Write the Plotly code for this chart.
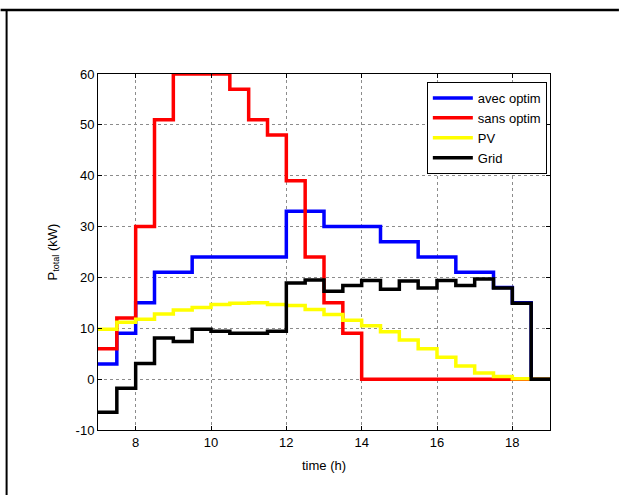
import plotly.graph_objects as go

# half-hour step boundaries (h)
time_h = [7, 7.5, 8, 8.5, 9, 9.5, 10, 10.5, 11, 11.5, 12, 12.5,
          13, 13.5, 14, 14.5, 15, 15.5, 16, 16.5, 17, 17.5, 18, 18.5, 19]

avec_optim = [3, 9, 15, 21, 21, 24, 24, 24, 24, 24, 33, 33,
              30, 30, 30, 27, 27, 24, 24, 21, 21, 18, 15, 0]
sans_optim = [6, 12, 30, 51, 60, 60, 60, 57, 51, 48, 39, 24,
              15, 9, 0, 0, 0, 0, 0, 0, 0, 0, 0, 0]
pv = [9.8, 11.2, 11.8, 12.8, 13.6, 14.1, 14.7, 14.9, 15.0, 14.7, 14.5, 13.7,
      12.7, 11.6, 10.5, 9.3, 7.7, 6.0, 4.3, 2.6, 1.2, 0.5, 0.1, 0]
grid = [-6.5, -1.8, 3.1, 8.1, 7.4, 9.8, 9.4, 9.0, 9.0, 9.4, 18.9, 19.5,
        17.3, 18.4, 19.4, 17.7, 19.3, 17.9, 19.4, 18.4, 19.7, 17.9, 14.9, 0]

series = [("avec optim", avec_optim, "#0000FF"),
          ("sans optim", sans_optim, "#FF0000"),
          ("PV", pv, "#FFFF00"),
          ("Grid", grid, "#000000")]

x_ticks = [8, 10, 12, 14, 16, 18]
x_ticktext = ["8", "10", "12", "14", "16", "18"]
y_ticks = [-10, 0, 10, 20, 30, 40, 50, 60]
y_ticktext = ["-10", "0", "10", "20", "30", "40", "50", "60"]

fig = go.Figure()
for name, vals, color in series:
    fig.add_trace(go.Scatter(
        x=time_h, y=vals + [vals[-1]], mode="lines", name=name,
        line=dict(color=color, width=3.5, shape="hv")))

W, H = 619, 495
L, R, T, B = 97.5, 550, 74, 430
FONT = "Liberation Sans, Arial"

axis_common = dict(showline=True, linecolor="black", linewidth=1, mirror="allticks",
                   ticks="inside", ticklen=4, tickcolor="black",
                   showgrid=True, gridcolor="#8c8c8c", griddash="dot", gridwidth=1,
                   zeroline=False, tickfont=dict(family=FONT, size=13, color="black"))

fig.update_layout(
    width=W, height=H,
    margin=dict(l=L, r=W - R, t=T, b=H - B, pad=0),
    paper_bgcolor="white", plot_bgcolor="white",
    font=dict(family=FONT, size=13, color="black"),
    xaxis=dict(range=[7, 19], tickvals=x_ticks, ticktext=x_ticktext,
               title=dict(text="time (h)", standoff=12, font=dict(size=13)), **axis_common),
    yaxis=dict(range=[-10, 60], tickvals=y_ticks, ticktext=y_ticktext,
               title=dict(text="P<sub>total</sub> (kW)", standoff=15, font=dict(size=13)), **axis_common),
    legend=dict(x=0.993, y=0.9775, xanchor="right", yanchor="top",
                bgcolor="white", bordercolor="black", borderwidth=1,
                font=dict(size=13, family=FONT),
                tracegroupgap=0, itemwidth=40),
    showlegend=True,
)

pw, ph = R - L, B - T
def px2x(px):
    return (px - L) / pw
def py2y(py):
    return 1 - (py - T) / ph

# outer frame lines (top and left)
fig.add_shape(type="line", xref="paper", yref="paper",
              x0=px2x(0), x1=px2x(W), y0=py2y(10), y1=py2y(10),
              line=dict(color="black", width=2.5))
fig.add_shape(type="line", xref="paper", yref="paper",
              x0=px2x(6), x1=px2x(6), y0=py2y(10), y1=py2y(H),
              line=dict(color="black", width=2))

fig.write_html("out.html", config={"displayModeBar": False},
               post_script="document.body.style.margin='0';")
